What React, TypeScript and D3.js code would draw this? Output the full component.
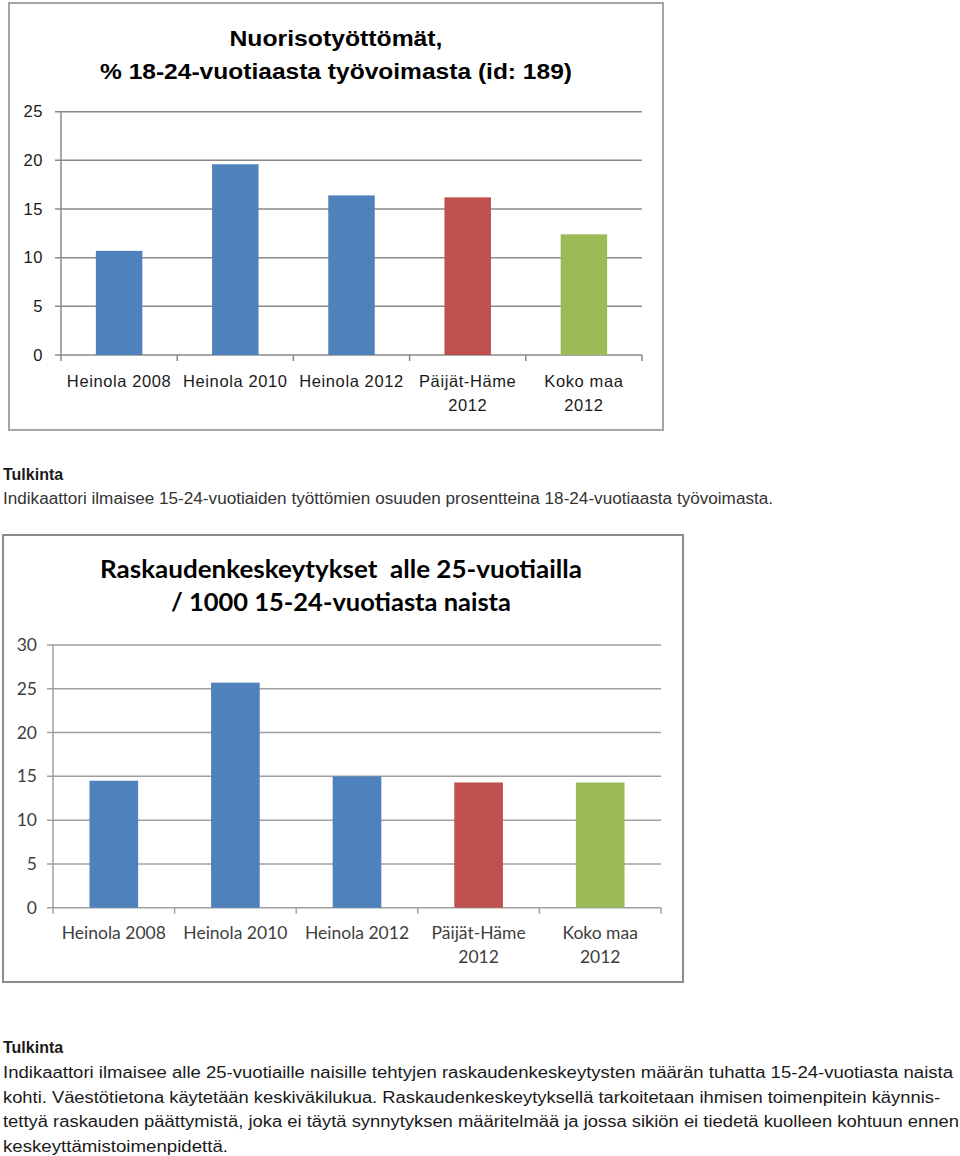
import React from "react";
import * as d3 from "d3";

const categories = ["Heinola 2008", "Heinola 2010", "Heinola 2012", "Päijät-Häme 2012", "Koko maa 2012"];
const labelLines = [["Heinola 2008"], ["Heinola 2010"], ["Heinola 2012"], ["Päijät-Häme", "2012"], ["Koko maa", "2012"]];
const barColors = ["#4F81BD", "#4F81BD", "#4F81BD", "#C0504D", "#9BBB59"];

const unemploymentValues = [10.7, 19.6, 16.4, 16.2, 12.4];
const unemploymentTicks = [0, 5, 10, 15, 20, 25];
const unemploymentTitle = ["Nuorisotyöttömät,", "% 18-24-vuotiaasta työvoimasta (id: 189)"];

const abortionValues = [14.5, 25.7, 15.0, 14.3, 14.3];
const abortionTicks = [0, 5, 10, 15, 20, 25, 30];
const abortionTitle = ["Raskaudenkeskeytykset  alle 25-vuotiailla", "/ 1000 15-24-vuotiasta naista"];

const text1Head = "Tulkinta";
const text1Lines = ["Indikaattori ilmaisee 15-24-vuotiaiden työttömien osuuden prosentteina 18-24-vuotiaasta työvoimasta."];
const text2Lines = [
  "Indikaattori ilmaisee alle 25-vuotiaille naisille tehtyjen raskaudenkeskeytysten määrän tuhatta 15-24-vuotiasta naista",
  "kohti. Väestötietona käytetään keskiväkilukua. Raskaudenkeskeytyksellä tarkoitetaan ihmisen toimenpitein käynnis-",
  "tettyä raskauden päättymistä, joka ei täytä synnytyksen määritelmää ja jossa sikiön ei tiedetä kuolleen kohtuun ennen",
  "keskeyttämistoimenpidettä.",
];

type ChartProps = {
  frame: [number, number, number, number];
  xRange: [number, number];
  yRange: [number, number];
  yMax: number;
  values: number[];
  ticks: number[];
  title: string[];
  titleY: number[];
  titleLen: number[];
  titleX: number;
  font: string;
  titleSize: number;
  labelSize: number;
  labelSpacing: number;
  labelColor: string;
  gridColor: string;
  frameColor: string;
  tickLabelX: number;
  labelY: number[];
};

function BarChart(p: ChartProps) {
  const x = d3.scaleBand<string>().domain(categories).range(p.xRange).paddingInner(0.6).paddingOuter(0.3);
  const y = d3.scaleLinear().domain([0, p.yMax]).range(p.yRange);
  const step = x.step();
  const [fx, fy, fw, fh] = p.frame;
  return (
    <g>
      <rect x={fx} y={fy} width={fw} height={fh} fill="#fff" stroke={p.frameColor} strokeWidth={2} />
      {p.title.map((t, i) => (
        <text key={i} x={p.titleX} y={p.titleY[i]} textAnchor="middle" fontFamily={p.font} fontWeight="bold"
          fontSize={p.titleSize} fill="#000" textLength={p.titleLen[i]} lengthAdjust="spacingAndGlyphs"
          style={{ whiteSpace: "pre" }}>{t}</text>
      ))}
      {p.ticks.map((t) => (
        <g key={t}>
          <line x1={p.xRange[0] - 6} x2={p.xRange[1]} y1={y(t)} y2={y(t)} stroke={p.gridColor} strokeWidth={1.5} />
          <text x={p.tickLabelX} y={y(t)} dy="0.35em" textAnchor="end" fontFamily={p.font} fontSize={p.labelSize}
            letterSpacing={p.labelSpacing} fill={p.labelColor}>{t}</text>
        </g>
      ))}
      <line x1={p.xRange[0]} x2={p.xRange[0]} y1={y(p.yMax)} y2={y(0)} stroke={p.gridColor} strokeWidth={1.5} />
      {d3.range(categories.length + 1).map((i) => (
        <line key={i} x1={p.xRange[0] + i * step} x2={p.xRange[0] + i * step} y1={y(0)} y2={y(0) + 6} stroke={p.gridColor} strokeWidth={1.5} />
      ))}
      {categories.map((c, i) => (
        <rect key={c} x={x(c)} y={y(p.values[i])} width={x.bandwidth()} height={y(0) - y(p.values[i])} fill={barColors[i]} />
      ))}
      {categories.map((c, i) =>
        labelLines[i].map((l, j) => (
          <text key={c + j} x={(x(c) as number) + x.bandwidth() / 2} y={p.labelY[j]} textAnchor="middle" fontFamily={p.font}
            fontSize={p.labelSize} letterSpacing={p.labelSpacing} fill={p.labelColor}>{l}</text>
        ))
      )}
    </g>
  );
}

export default function App() {
  const bodyFont = "'Liberation Sans', Arial, sans-serif";
  return (
    <div style={{ position: "absolute", left: 0, top: 0 }}>
      <svg width={960} height={1156} style={{ display: "block" }}>
        <rect width={960} height={1156} fill="#fff" />
        <BarChart frame={[9, 3, 654, 427]} xRange={[61, 642]} yRange={[355, 111.7]} yMax={25}
          values={unemploymentValues} ticks={unemploymentTicks} title={unemploymentTitle}
          titleY={[46, 79]} titleLen={[213, 472]} titleX={336} font={bodyFont} titleSize={22} labelSize={16.5} labelSpacing={0.6}
          labelColor="#1a1a1a" gridColor="#8a8a8a" frameColor="#a6a6a6" tickLabelX={43} labelY={[387, 411]} />
        <text x={3} y={480} fontFamily={bodyFont} fontWeight="bold" fontSize={16} fill="#1a1a1a">{text1Head}</text>
        {text1Lines.map((l, i) => (
          <text key={i} x={3} y={504 + i * 24.5} fontFamily={bodyFont} fontSize={16} fill="#333" textLength={770} lengthAdjust="spacingAndGlyphs">{l}</text>
        ))}
        <BarChart frame={[3, 535, 680, 447]} xRange={[53, 661]} yRange={[907.7, 645]} yMax={30}
          values={abortionValues} ticks={abortionTicks} title={abortionTitle}
          titleY={[578, 611]} titleLen={[482, 340]} titleX={341} font="Lato, 'Open Sans', sans-serif" titleSize={24} labelSize={17.5} labelSpacing={0}
          labelColor="#404040" gridColor="#a0a0a0" frameColor="#8c8c8c" tickLabelX={37} labelY={[939, 963]} />
        <text x={3} y={1053} fontFamily={bodyFont} fontWeight="bold" fontSize={16} fill="#1a1a1a">{text1Head}</text>
        {text2Lines.map((l, i) => (
          <text key={i} x={3} y={1078 + i * 24.5} fontFamily={bodyFont} fontSize={16} fill="#1a1a1a"
            textLength={[950, 937, 956, 225][i]} lengthAdjust="spacingAndGlyphs">{l}</text>
        ))}
      </svg>
    </div>
  );
}
